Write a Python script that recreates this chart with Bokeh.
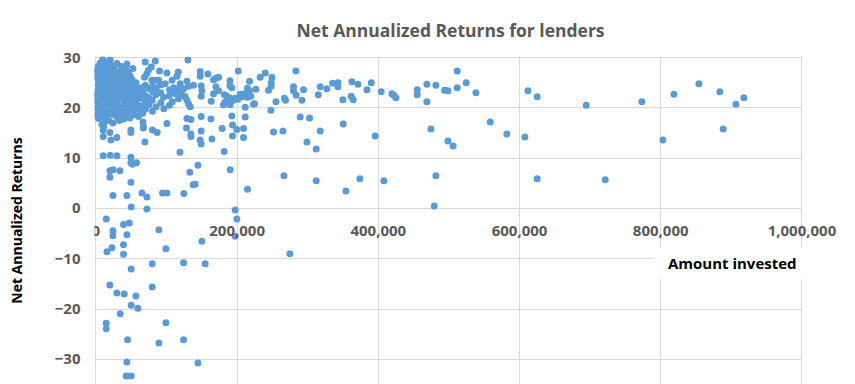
from bokeh.plotting import figure
from bokeh.models import FixedTicker, Range1d, ColumnDataSource, BoxAnnotation, Label
from bokeh.core.properties import value
from bokeh.embed import file_html
from bokeh.resources import INLINE

title_text = "Net Annualized Returns for lenders"
x_label = "Amount invested"
y_label = "Net Annualized Returns"
xticks = [0, 200000, 400000, 600000, 800000, 1000000]
xtick_labels = ["0", "200,000", "400,000", "600,000", "800,000", "1,000,000"]
yticks = [-30, -20, -10, 0, 10, 20, 30]

# right, sparse part
amount_a = [468800, 468800, 481500, 493800, 498600, 511700, 511700, 524500, 538200, 611900,
            625000, 694500, 773300, 818700, 854100, 883800, 906500, 917800, 474500, 558500,
            582100, 607600, 498600, 506000, 803100, 888500, 481500, 625000, 721400, 479200]
return_a = [24.7, 21.2, 24.5, 23.5, 23.4, 27.3, 24.0, 25.0, 23.0, 23.4,
            22.2, 20.5, 21.2, 22.7, 24.8, 23.2, 20.7, 22.0, 15.8, 17.2,
            14.8, 14.2, 13.4, 12.4, 13.6, 15.8, 6.5, 5.9, 5.7, 0.5]

amount_b = [327200, 335200, 342800, 342800, 349800, 361600, 364400, 362600, 371100, 383900,
            390000, 404100, 419300, 422100, 425000, 455100, 455100, 350300, 395600, 354100,
            373900, 407900]
return_b = [23.8, 24.9, 25.0, 24.2, 21.6, 22.3, 21.6, 25.2, 24.7, 23.6,
            25.0, 23.2, 22.8, 22.5, 22.0, 23.6, 22.6, 16.8, 14.4, 3.5,
            5.9, 5.5]

amount_c = [317700, 315000, 294100, 291800, 283300, 279900, 279900, 283700, 268600, 267100,
            255000, 249300, 248300, 248300, 247900, 244500, 239800, 232700, 226600, 223200,
            217600, 214700, 217600, 214700, 219500, 210500, 207600, 211500, 211500, 201600,
            204400, 201100, 199700, 209100, 209100, 214700, 194900, 190200, 192600, 193500,
            193500, 190200, 312000, 266300, 298900, 312000, 317700, 302600, 289400, 264900,
            251600, 224600, 274800, 197300, 199700, 197300]
return_c = [24.2, 22.6, 23.6, 21.5, 27.3, 24.2, 23.4, 22.5, 21.5, 21.9,
            21.2, 26.1, 25.0, 24.3, 19.5, 23.5, 26.9, 26.1, 23.7, 20.7,
            25.3, 23.9, 23.4, 22.1, 22.3, 22.8, 22.2, 20.1, 18.2, 27.3,
            22.7, 21.7, 15.7, 15.9, 14.1, 3.8, 21.5, 21.9, 18.4, 16.6,
            14.4, 7.7, 5.5, 6.5, 13.2, 11.8, 15.4, 18.0, 18.2, 15.4,
            15.2, 20.8, -9.0, -0.3, -2.1, -5.5]

amount_d = [147700, 147700, 158600, 166600, 170000, 173700, 189800, 189800, 192600, 149100,
            150100, 149100, 170000, 166600, 163300, 173700, 182100, 185500, 187800, 183100,
            180700, 190200, 197300, 149100, 162900, 147700, 149100, 164300, 181700, 144500,
            140600, 150100, 154800, 149100, 178900]
return_d = [27.2, 26.3, 26.7, 25.6, 25.9, 26.1, 25.4, 24.4, 24.0, 24.4,
            23.4, 22.3, 24.2, 22.8, 21.3, 23.4, 22.6, 22.3, 21.5, 21.1,
            20.6, 20.6, 21.9, 18.3, 17.8, 13.6, 12.8, 13.8, 11.3, 8.6,
            4.8, -6.5, -11.0, 15.4, 15.9]

# lower left (negative returns)
amount_e = [14600, 24100, 24100, 15600, 22700, 24100, 43900, 65200, 72200, 50000,
            72200, 39100, 47200, 43900, 39100, 39100, 50000, 89200, 99100, 79700,
            124100, 94300, 100600, 124600, 19800, 29700, 40100, 56700, 79700, 34400,
            50000, 59500, 14600, 14600, 99100, 44800, 89200, 124100, 43900, 144500,
            42900, 50000]
return_e = [-2.1, -4.4, -5.4, -8.6, -7.8, 2.6, 2.6, 3.1, 2.3, 0.3,
            -0.1, -3.2, -2.9, -5.2, -7.2, -9.1, -12.0, -4.2, -8.0, -11.0,
            -10.8, 3.1, 3.1, 3.0, -15.2, -16.8, -17.0, -17.4, -15.6, -20.9,
            -19.2, -19.8, -22.8, -23.9, -22.7, -26.1, -26.7, -26.1, -30.5, -30.7,
            -33.3, -33.3]

amount_f = [10300, 10300, 19800, 21200, 29700, 49600, 49600, 67000, 80200, 86800,
            69400, 128300, 134500, 134500, 119000, 10300, 20300, 29700, 49600, 49600,
            51800, 57500, 24500, 19800, 19800, 34000, 49600, 133100, 137800]
return_f = [15.6, 14.3, 15.1, 13.6, 14.1, 15.6, 15.1, 16.0, 15.6, 15.1,
            13.2, 16.0, 14.8, 14.3, 11.2, 10.5, 10.6, 10.5, 10.2, 9.1,
            8.8, 9.1, 7.7, 7.5, 6.2, 7.5, 5.2, 7.2, 4.7]

amount_g = [9400, 20300, 69800, 84000, 130300, 29700, 43900, 42500, 52400, 78300,
            74500, 72200, 68800, 90100, 100600, 98100, 116600, 114700, 128900, 119400,
            79300, 84000, 88700, 138200, 131200, 124100, 115600, 110000, 107600, 119400,
            112300, 121700, 116900, 126400, 128900, 133600, 131200, 1000, 3700, 8500,
            10800, 67400, 66600, 100600, 128900, 134500]
return_g = [29.6, 29.5, 29.1, 29.3, 29.5, 28.8, 28.7, 28.1, 27.8, 28.1,
            27.5, 26.8, 26.1, 27.3, 26.9, 24.8, 27.1, 26.3, 25.3, 24.8,
            25.5, 25.5, 25.5, 24.5, 24.3, 23.8, 23.8, 24.0, 23.5, 23.5,
            22.8, 22.6, 21.8, 22.2, 21.5, 20.2, 20.8, 18.5, 17.9, 16.7,
            16.2, 16.2, 17.2, 16.9, 17.9, 17.7]

# dense cluster of small lenders
amount_h = [
    1000, 1500, 800, 1200, 2000, 900, 1400,
    3200, 2800, 3500, 3000, 2600, 3300,
    6100, 5800, 6400, 5600, 6200, 5900, 6600, 6000,
    9100, 8700, 9500, 8900, 9300, 8600, 9200,
    12100, 11700, 12400, 11900, 12600, 12200, 11800,
    15200, 14800, 15500, 15000, 14600, 15300, 14900, 15600, 15100,
    18100, 17800, 18400, 17600, 18300, 18000,
    21200, 20800, 21500, 21000, 20600, 21300,
    24100, 23800, 24400, 23600, 24300, 24000, 23700, 24500,
    27100, 26800, 27400, 26700, 27300, 27000,
    30200, 29800, 30500, 29900, 30300,
    33100, 32800, 33400, 32700, 33300, 33000,
    36200, 35800, 36400, 35700, 36300, 36000,
    39100, 38700, 39400, 38900, 39300, 39000,
    42200, 41800, 42500, 41900, 42300,
    45100, 44700, 45400, 44900, 45300,
    48200, 47800, 48500, 47900, 48300,
    51100, 50700, 51400, 50900,
    54200, 53800, 54500, 53900,
    57100, 56700, 57400, 56900,
    60200, 59800, 60500,
    63100, 62700, 63400,
    66200, 65800, 66500,
    70100, 69700, 70400, 69900,
    75200, 74800, 75500,
    80100, 79700, 80400, 79900,
    85200, 84800, 85500,
    92100, 91700, 92400,
    96200, 95800,
    104100, 103700, 104400,
    108200, 107800,
]
return_h = [
    20.0, 21.3, 22.4, 23.2, 25.8, 26.8, 27.6,
    19.2, 22.0, 23.6, 24.6, 27.2, 28.2,
    19.5, 20.8, 22.9, 24.1, 25.4, 26.4, 27.9, 28.9,
    18.0, 19.0, 21.7, 23.4, 25.0, 26.8, 28.4,
    17.2, 20.2, 22.6, 24.0, 25.7, 27.3, 28.9,
    18.6, 19.6, 21.0, 22.2, 23.8, 25.2, 26.4, 28.0, 29.1,
    17.5, 20.6, 22.8, 24.5, 26.0, 27.6,
    19.1, 21.4, 23.3, 24.9, 27.0, 28.5,
    17.0, 18.7, 20.3, 22.0, 23.6, 25.6, 26.7, 28.0,
    19.6, 21.1, 22.5, 24.2, 25.1, 27.4,
    18.2, 20.7, 23.0, 24.7, 26.2,
    17.5, 19.3, 21.8, 23.8, 25.5, 27.0,
    18.8, 20.2, 22.4, 24.4, 26.6, 28.2,
    17.8, 19.8, 21.3, 23.1, 25.0, 27.5,
    18.5, 20.9, 22.7, 24.1, 26.0,
    19.2, 21.7, 23.5, 25.3, 27.0,
    18.0, 20.4, 22.2, 24.6, 26.4,
    19.5, 21.1, 23.0, 25.7,
    18.7, 20.0, 22.5, 24.2,
    19.8, 21.6, 23.7, 25.0,
    18.3, 20.5, 22.9,
    19.4, 21.9, 24.0,
    18.9, 20.3, 23.3,
    19.7, 21.2, 22.4, 24.5,
    20.6, 22.0, 23.8,
    19.3, 21.5, 23.2, 24.3,
    20.2, 22.6, 24.0,
    21.0, 23.0, 24.6,
    19.8, 22.1,
    20.5, 22.4, 23.6,
    21.2, 25.5,
]

amount = amount_a + amount_b + amount_c + amount_d + amount_e + amount_f + amount_g + amount_h
net_return = return_a + return_b + return_c + return_d + return_e + return_f + return_g + return_h

FONT = "Open Sans"
BLUE = "#5B9BD5"
GRID = "#D9D9D9"
GREY = "#595959"

p = figure(width=855, height=384, output_backend="svg", toolbar_location=None,
           x_range=Range1d(-2000, 1075880), y_range=Range1d(-34.97, 30.2),
           x_axis_location=None,
           min_border_left=94, min_border_right=0, min_border_top=56, min_border_bottom=0)
p.background_fill_color = "white"
p.border_fill_color = "white"
p.outline_line_color = None

p.title.text = title_text
p.title.align = "left"
p.title.offset = 202
p.title.vertical_align = "middle"
p.title.standoff = 28
p.title.text_font = FONT
p.title.text_font_style = "bold"
p.title.text_font_size = "17.5px"
p.title.text_color = GREY

yax = p.yaxis[0]
yax.ticker = FixedTicker(ticks=yticks)
yax.major_label_text_font = FONT
yax.major_label_text_font_style = "bold"
yax.major_label_text_font_size = "15px"
yax.major_label_text_color = GREY
yax.major_tick_line_color = None
yax.minor_tick_line_color = None
yax.axis_line_color = None
yax.major_tick_out = 0
yax.major_tick_in = 0
yax.major_label_standoff = 14
yax.axis_label = y_label
yax.axis_label_text_font = FONT
yax.axis_label_text_font_style = "bold"
yax.axis_label_text_font_size = "14px"
yax.axis_label_text_color = "black"
yax.axis_label_standoff = 26

p.xgrid.ticker = FixedTicker(ticks=xticks)
p.xgrid.grid_line_color = GRID
p.ygrid.grid_line_color = GRID
p.ygrid.cross_bounds = (0, 1000000)

src = ColumnDataSource(dict(x=amount, y=net_return))
p.scatter(x="x", y="y", source=src, size=7, fill_color=BLUE, line_color=None)

tick_src = ColumnDataSource(dict(x=xticks, y=[0] * len(xticks), t=xtick_labels))
p.text(x="x", y="y", text="t", source=tick_src, text_font=value(FONT),
       text_font_style="bold", text_font_size="15px", text_color=GREY,
       text_align="center", text_baseline="middle", y_offset=23)

box = BoxAnnotation(left=789400, right=1001800, top=-7.69, bottom=-14.05,
                    fill_color="white", fill_alpha=1.0, line_color=None)
p.add_layout(box)
lbl = Label(x=901300, y=-10.9, text=x_label, text_align="center", text_baseline="middle",
            text_font=FONT, text_font_style="bold", text_font_size="15px", text_color="black")
p.add_layout(lbl)

open("out.html", "w").write(file_html(p, INLINE))
